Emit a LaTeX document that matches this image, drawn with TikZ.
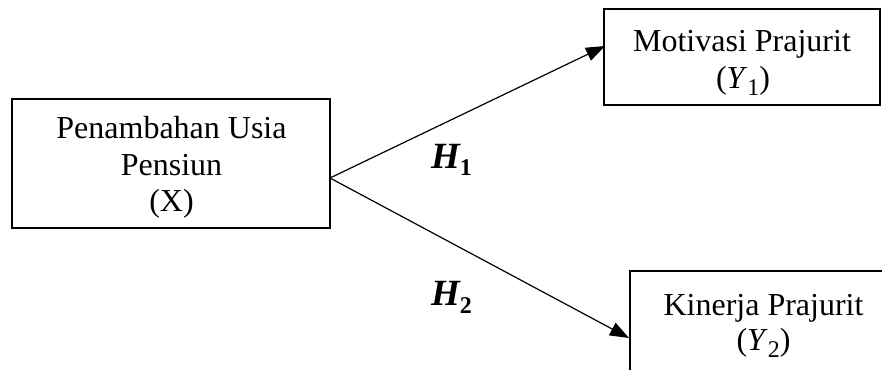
\documentclass[tikz,border=0pt]{standalone}
\usepackage{fontspec}
\setmainfont{Liberation Serif}
\usetikzlibrary{arrows.meta}
\begin{document}
\begin{tikzpicture}[x=1pt,y=-1pt,
  box/.style={draw=black,line width=1.2pt,rectangle,inner sep=0pt},
  txt/.style={anchor=base,inner sep=0pt,font=\fontsize{32}{36}\selectfont},
  hyp/.style={anchor=base west,inner sep=0pt,font=\fontsize{37}{38}\selectfont\bfseries\itshape},
  arr/.style={line width=1.2pt,-{Triangle[length=19pt,width=14pt]}}]
\useasboundingbox (0,0) rectangle (882,369);
\begin{scope}
\clip (0,0) rectangle (882,369);
% boxes
\node[box,minimum width=318pt,minimum height=129pt] (X) at (171,163.5) {};
\node[box,minimum width=276pt,minimum height=96pt] (Y1) at (742,57) {};
\node[box,minimum width=267pt,minimum height=100pt] (Y2) at (763.5,321) {};
\end{scope}
% texts
\node[txt] (x1) at (171.5,138) {Penambahan Usia};
\node[txt] (x2) at (171.5,175) {Pensiun};
\node[txt] (x3) at (171.5,211) {(X)};
\node[txt] (y1a) at (742,52) {Motivasi Prajurit};
\node[txt] (y1b) at (743,88) {(\textit{Y}\raisebox{-7pt}{\fontsize{24}{24}\selectfont 1})};
\node[txt] (y2a) at (763.5,315) {Kinerja Prajurit};
\node[txt] (y2b) at (763.5,350) {(\textit{Y}\raisebox{-7pt}{\fontsize{24}{24}\selectfont 2})};
% hypotheses
\node[hyp] (h1) at (431,168) {H\raisebox{-7pt}{\fontsize{24}{24}\selectfont\upshape 1}};
\node[hyp] (h2) at (431,305) {H\raisebox{-8pt}{\fontsize{24}{24}\selectfont\upshape 2}};
% connectors
\coordinate (src) at (330,178);
\coordinate (t1) at (605,46);
\coordinate (t2) at (629,338);
\draw[arr] (src) -- (t1);
\draw[arr] (src) -- (t2);
\end{tikzpicture}
\end{document}
